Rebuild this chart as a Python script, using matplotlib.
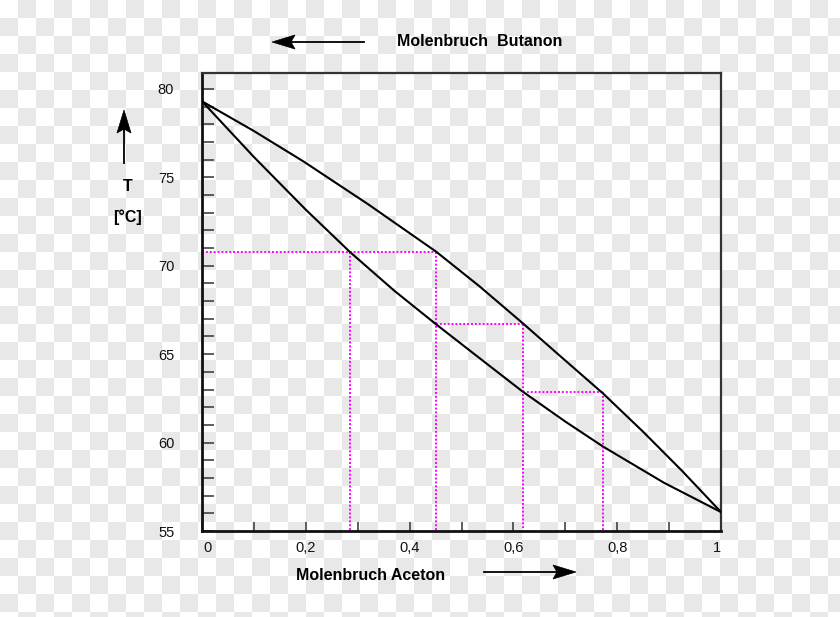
import numpy as np
import matplotlib
matplotlib.use("Agg")
import matplotlib.pyplot as plt
from matplotlib.patches import Polygon
from matplotlib.transforms import ScaledTranslation

plt.rcParams["font.family"] = ["Liberation Sans", "DejaVu Sans"]

# Siedediagramm Aceton / Butanon (x = Molenbruch Aceton, T in degC)
# Taulinie (oben)
dew_x = [0.0, 0.1, 0.196, 0.32, 0.451, 0.535, 0.618, 0.70, 0.773, 0.85, 0.925, 1.0]
dew_T = [79.3, 77.62, 75.89, 73.48, 70.80, 68.83, 66.75, 64.64, 62.77, 60.61, 58.40, 56.07]

# Siedelinie (unten)
boil_x = [0.0, 0.1, 0.2, 0.285, 0.37, 0.451, 0.535, 0.618, 0.70, 0.773, 0.89, 1.0]
boil_T = [79.3, 76.15, 73.17, 70.78, 68.60, 66.69, 64.77, 62.88, 61.19, 59.77, 57.73, 56.07]

# Stufen (Gleichgewichtsstufen)
step_T = [70.78, 66.69, 62.86]
step_x_liq = [0.285, 0.451, 0.618]
step_x_vap = [0.451, 0.618, 0.773]

x_ticks = [0.0, 0.2, 0.4, 0.6, 0.8, 1.0]
x_labels = ["0", "0,2", "0,4", "0,6", "0,8", "1"]
y_ticks = [55, 60, 65, 70, 75, 80]

W, H = 840, 617
fig = plt.figure(figsize=(W / 100, H / 100), dpi=100)

# transparent-background checkerboard
bg = fig.add_axes([0, 0, 1, 1], zorder=-10)
yy, xx = np.indices((H, W))
checker = ((yy // 18 + xx // 18) % 2).astype(float)
bg.imshow(checker, cmap=matplotlib.colors.ListedColormap(["#ffffff", "#e8e8e8"]),
          aspect="auto", interpolation="nearest")
bg.set_axis_off()

ax = fig.add_axes([202 / W, 1 - 531 / H, (721 - 202) / W, (531 - 73) / H])
ax.set_facecolor("none")
ax.set_xlim(0, 1)
ax.set_ylim(55, 80.9)

ax.plot(dew_x, dew_T, color="black", lw=1.5, zorder=3)
ax.plot(boil_x, boil_T, color="black", lw=1.5, zorder=3)

dot = dict(color="#ff00ff", lw=1.4, ls=(0, (1, 1)), zorder=2)
ax.plot([0, step_x_vap[0]], [step_T[0], step_T[0]], **dot)
ax.plot([step_x_liq[0], step_x_liq[0]], [step_T[0], 55], **dot)
for i in range(len(step_T)):
    xv = step_x_vap[i]
    ax.plot([xv, xv], [step_T[i], 55], **dot)
    if i + 1 < len(step_T):
        ax.plot([xv, step_x_vap[i + 1]], [step_T[i + 1], step_T[i + 1]], **dot)

ax.set_xticks(x_ticks)
ax.set_xticklabels(x_labels)
ax.set_xticks(np.arange(0.1, 1.0, 0.2), minor=True)
ax.set_yticks(y_ticks)
ax.set_yticks(np.arange(55, 81, 1), minor=True)
ax.tick_params(axis="x", which="both", direction="in", length=6.5, width=1.1,
               color="#333333", pad=7, labelsize=10.5, labelcolor="#111111")
ax.tick_params(axis="y", which="both", direction="in", length=8.5, width=1.1,
               color="#333333", pad=20, labelsize=10.5, labelcolor="#111111")
xl = ax.get_xticklabels()
xl[0].set_transform(xl[0].get_transform() + ScaledTranslation(0.05, 0, fig.dpi_scale_trans))
xl[-1].set_transform(xl[-1].get_transform() + ScaledTranslation(-0.04, 0, fig.dpi_scale_trans))
for side in ["left", "bottom"]:
    ax.spines[side].set_linewidth(2)
    ax.spines[side].set_color("#111111")
for side in ["top", "right"]:
    ax.spines[side].set_linewidth(1.6)
    ax.spines[side].set_color("#333333")


def px(x, y):
    return x / W, 1 - y / H


def arrow(x0, y0, x1, y1, head=23, half=7, notch=4):
    # shaft plus barbed head, pixel coordinates from the top left
    d = np.array([x1 - x0, y1 - y0], float)
    d /= np.hypot(*d)
    n = np.array([-d[1], d[0]])
    tip = np.array([x1, y1], float)
    back = tip - d * head
    fig.add_artist(plt.Line2D(*zip(px(x0, y0), px(*(back + d * notch))),
                              color="black", lw=1.3))
    pts = [tip, back + n * half, back + d * notch, back - n * half]
    fig.add_artist(Polygon([px(*p) for p in pts], closed=True,
                           facecolor="black", edgecolor="black", lw=0.5))


arrow(364, 42, 272, 42)
arrow(484, 572, 576, 572)
arrow(124, 163, 124, 110)

fig.text(*px(397, 42), "Molenbruch  Butanon", fontsize=11.5, fontweight="bold",
         ha="left", va="center")
fig.text(*px(296, 575), "Molenbruch Aceton", fontsize=11.5, fontweight="bold",
         ha="left", va="center")
fig.text(*px(128, 186), "T", fontsize=11.5, fontweight="bold", ha="center", va="center")
fig.text(*px(128, 217), "[°C]", fontsize=11.5, fontweight="bold", ha="center", va="center")

fig.savefig("out.png", dpi=100)
